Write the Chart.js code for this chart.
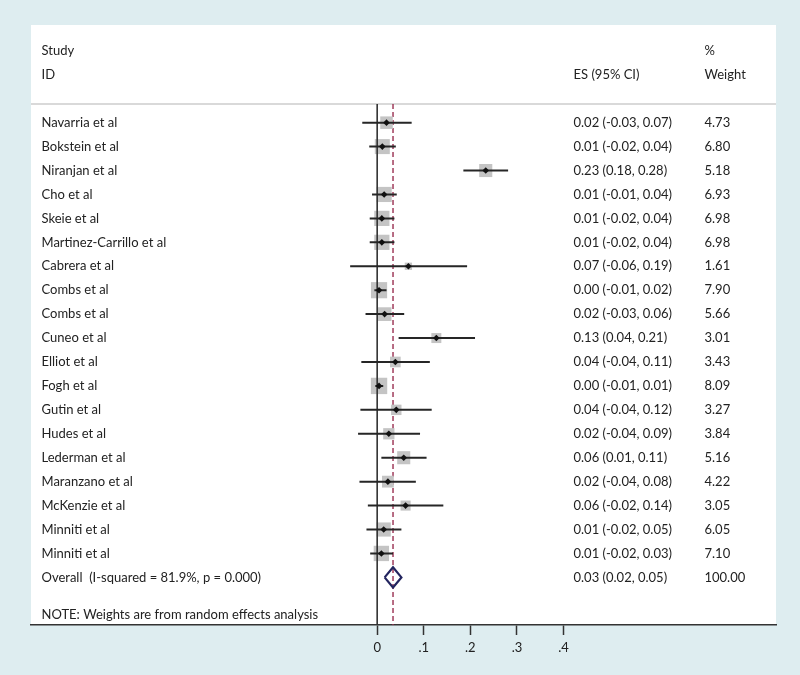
<!DOCTYPE html>
<html lang="en">
<head>
<meta charset="UTF-8">
<title>Forest plot</title>
<script src="https://cdn.jsdelivr.net/npm/chart.js"></script>
<style>
    html, body { margin: 0; padding: 0; background: #deedf0; }
    #wrap { width: 800px; height: 675px; position: relative; }
</style>
</head>
<body>
<div id="wrap"><canvas id="forest"></canvas></div>
<script>
// studies, top to bottom
const studies = ['Navarria et al', 'Bokstein et al', 'Niranjan et al', 'Cho et al', 'Skeie et al',
    'Martinez-Carrillo et al', 'Cabrera et al', 'Combs et al', 'Combs et al', 'Cuneo et al',
    'Elliot et al', 'Fogh et al', 'Gutin et al', 'Hudes et al', 'Lederman et al',
    'Maranzano et al', 'McKenzie et al', 'Minniti et al', 'Minniti et al'];
const es    = [0.020, 0.011, 0.233, 0.015, 0.010, 0.010, 0.067, 0.004, 0.016, 0.127,
               0.039, 0.004, 0.041, 0.025, 0.057, 0.023, 0.061, 0.014, 0.009];
const ciLow = [-0.032, -0.017, 0.185, -0.011, -0.016, -0.016, -0.058, -0.006, -0.025, 0.046,
               -0.034, -0.004, -0.036, -0.041, 0.009, -0.038, -0.020, -0.023, -0.015];
const ciHigh = [0.074, 0.040, 0.281, 0.042, 0.037, 0.037, 0.193, 0.020, 0.058, 0.210,
                0.113, 0.013, 0.117, 0.092, 0.106, 0.083, 0.142, 0.052, 0.034];
const weights = [4.73, 6.80, 5.18, 6.93, 6.98, 6.98, 1.61, 7.90, 5.66, 3.01,
                 3.43, 8.09, 3.27, 3.84, 5.16, 4.22, 3.05, 6.05, 7.10];
const esLabels = ['0.02 (-0.03, 0.07)', '0.01 (-0.02, 0.04)', '0.23 (0.18, 0.28)', '0.01 (-0.01, 0.04)',
    '0.01 (-0.02, 0.04)', '0.01 (-0.02, 0.04)', '0.07 (-0.06, 0.19)', '0.00 (-0.01, 0.02)',
    '0.02 (-0.03, 0.06)', '0.13 (0.04, 0.21)', '0.04 (-0.04, 0.11)', '0.00 (-0.01, 0.01)',
    '0.04 (-0.04, 0.12)', '0.02 (-0.04, 0.09)', '0.06 (0.01, 0.11)', '0.02 (-0.04, 0.08)',
    '0.06 (-0.02, 0.14)', '0.01 (-0.02, 0.05)', '0.01 (-0.02, 0.03)'];
const weightLabels = ['4.73', '6.80', '5.18', '6.93', '6.98', '6.98', '1.61', '7.90', '5.66', '3.01',
    '3.43', '8.09', '3.27', '3.84', '5.16', '4.22', '3.05', '6.05', '7.10'];

// pooled estimate
const overallLabel = 'Overall  (I-squared = 81.9%, p = 0.000)';
const overallEs = 0.034;
const overallLow = 0.016;
const overallHigh = 0.052;
const overallEsLabel = '0.03 (0.02, 0.05)';
const overallWeightLabel = '100.00';

const xTicks = [0, 0.1, 0.2, 0.3, 0.4];

const FONT = '13px Lato';
const TEXT = '#222222';
const Y_MIN = -0.78, Y_MAX = 20.99;
const overallRow = studies.length;

// CI whiskers: one line dataset, broken with nulls
const ciData = [];
studies.forEach((s, i) => {
    ciData.push({x: ciLow[i], y: i}, {x: ciHigh[i], y: i}, {x: null, y: null});
});

const diamondHalf = 0.42;
const diamondData = [
    {x: overallLow, y: overallRow},
    {x: overallEs, y: overallRow - diamondHalf},
    {x: overallHigh, y: overallRow},
    {x: overallEs, y: overallRow + diamondHalf},
    {x: overallLow, y: overallRow}
];

const panelPlugin = {
    id: 'panel',
    beforeDraw(chart) {
        const ctx = chart.ctx, a = chart.chartArea;
        ctx.save();
        ctx.fillStyle = '#deedf0';
        ctx.fillRect(0, 0, chart.width, chart.height);
        ctx.fillStyle = '#ffffff';
        ctx.fillRect(a.left, 25, a.right - a.left, a.bottom - 25);
        ctx.strokeStyle = '#cccccc';
        ctx.lineWidth = 1.5;
        ctx.beginPath();
        ctx.moveTo(a.left, a.top);
        ctx.lineTo(a.right, a.top);
        ctx.stroke();
        ctx.restore();
    },
    afterDraw(chart) {
        const ctx = chart.ctx, y = chart.scales.y;
        const xName = 41.5, xEs = 573.5, xW = 704.5;
        ctx.save();
        ctx.font = FONT;
        ctx.fillStyle = TEXT;
        ctx.textBaseline = 'middle';
        ctx.textAlign = 'left';
        ctx.fillText('Study', xName, y.getPixelForValue(-3));
        ctx.fillText('ID', xName, y.getPixelForValue(-2));
        ctx.fillText('%', xW, y.getPixelForValue(-3));
        ctx.fillText('ES (95% CI)', xEs, y.getPixelForValue(-2));
        ctx.fillText('Weight', xW, y.getPixelForValue(-2));
        studies.forEach((s, i) => {
            const py = y.getPixelForValue(i);
            ctx.fillText(s, xName, py);
            ctx.fillText(esLabels[i], xEs, py);
            ctx.fillText(weightLabels[i], xW, py);
        });
        const po = y.getPixelForValue(overallRow);
        ctx.fillText(overallLabel, xName, po);
        ctx.fillText(overallEsLabel, xEs, po);
        ctx.fillText(overallWeightLabel, xW, po);
        ctx.fillText('NOTE: Weights are from random effects analysis', xName, y.getPixelForValue(20.55));
        ctx.restore();
    }
};

new Chart(document.getElementById('forest'), {
    type: 'scatter',
    data: {
        datasets: [{
            // point estimates
            data: studies.map((s, i) => ({x: es[i], y: i})),
            pointStyle: 'rectRot',
            pointRadius: 3.3,
            backgroundColor: '#111111',
            borderWidth: 0
        }, {
            type: 'line',
            data: ciData,
            borderColor: '#262626',
            borderWidth: 2,
            pointRadius: 0,
            spanGaps: false
        }, {
            type: 'line',
            data: diamondData,
            borderColor: '#23255f',
            borderWidth: 2.2,
            pointRadius: 0,
            fill: false
        }, {
            // zero reference line
            type: 'line',
            data: [{x: 0, y: Y_MIN}, {x: 0, y: Y_MAX}],
            borderColor: '#333333',
            borderWidth: 1.6,
            pointRadius: 0
        }, {
            // weight boxes
            data: studies.map((s, i) => ({x: es[i], y: i})),
            pointStyle: 'rect',
            pointRadius: ctx => 4.07 * Math.sqrt(weights[ctx.dataIndex]),
            backgroundColor: '#c4c4c4',
            borderWidth: 0
        }, {
            // overall effect dashed line
            type: 'line',
            data: [{x: overallEs, y: Y_MIN}, {x: overallEs, y: Y_MAX}],
            borderColor: '#9a2f50',
            borderWidth: 1.4,
            borderDash: [5, 3],
            pointRadius: 0
        }]
    },
    options: {
        responsive: true,
        maintainAspectRatio: false,
        animation: false,
        devicePixelRatio: 1,
        layout: { padding: { left: 31, right: 24, top: 104, bottom: 0 } },
        plugins: { legend: { display: false }, tooltip: { enabled: false } },
        scales: {
            x: {
                type: 'linear',
                min: -0.743,
                max: 0.856,
                afterBuildTicks(scale) { scale.ticks = xTicks.map(v => ({value: v})); },
                afterFit(scale) { scale.height = 50; },
                grid: { drawOnChartArea: false, tickLength: 10, tickColor: '#333333', tickWidth: 1.5 },
                border: { color: '#333333', width: 1.5 },
                ticks: {
                    font: { family: 'Lato', size: 13 },
                    color: TEXT,
                    padding: 5,
                    autoSkip: false,
                    maxRotation: 0,
                    callback: v => v === 0 ? '0' : String(v).replace(/^0/, '')
                }
            },
            y: { type: 'linear', reverse: true, min: Y_MIN, max: Y_MAX, display: false }
        }
    },
    plugins: [panelPlugin]
});
</script>
</body>
</html>
